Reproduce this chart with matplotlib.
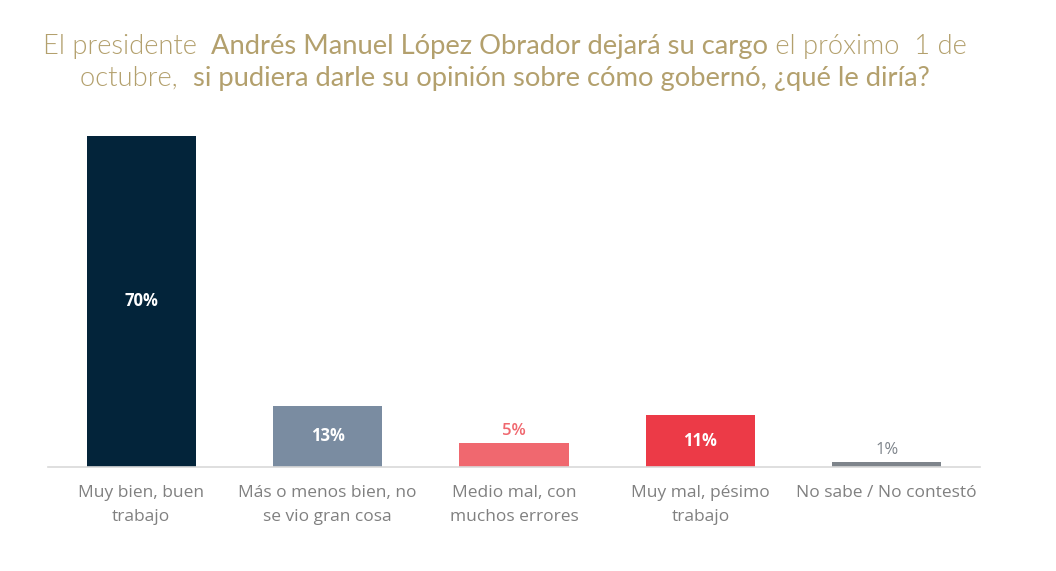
import matplotlib
matplotlib.use("Agg")
import matplotlib.pyplot as plt

categories = ["Muy bien, buen\ntrabajo", "Más o menos bien, no\nse vio gran cosa",
              "Medio mal, con\nmuchos errores", "Muy mal, pésimo\ntrabajo",
              "No sabe / No contestó"]
values = [70, 13, 5, 11, 1]
labels = ["70%", "13%", "5%", "11%", "1%"]
colors = ["#03243a", "#7a8ca1", "#f0686f", "#ec3a47", "#7e848b"]
inside = [True, True, False, True, False]
label_colors = ["white", "white", "#f0686f", "white", "#7e848b"]

title_line1 = [("El presidente  ", 300), ("Andrés Manuel López Obrador dejará su cargo", 400),
               (" el próximo  1 de", 300)]
title_line2 = [("octubre,  ", 300), ("si pudiera darle su opinión sobre cómo gobernó, ¿qué le diría?", 400)]

fig = plt.figure(figsize=(10.56, 5.71), dpi=100)
ax = fig.add_axes([48/1056, (571-467)/571, 932/1056, 331/571])
x = list(range(len(values)))
ax.bar(x, values, width=0.585, color=colors, zorder=2)
ax.set_xlim(-0.5, 4.5)
ax.set_ylim(0, 70)
for s in ["top", "right", "left"]:
    ax.spines[s].set_visible(False)
ax.spines["bottom"].set_color("#d9d9d9")
ax.spines["bottom"].set_linewidth(1.2)
ax.set_yticks([])
ax.set_xticks(x)
ax.set_xticklabels(categories, fontsize=12.5, color="#808080", family="Open Sans", linespacing=1.65)
ax.tick_params(axis="x", length=0, pad=13)

for i, (v, lab) in enumerate(zip(values, labels)):
    if inside[i]:
        ax.text(i, v / 2, lab, ha="center", va="center", color=label_colors[i],
                fontsize=12, fontweight="bold", family="Open Sans")
    else:
        ax.text(i, v + 0.9, lab, ha="center", va="bottom", color=label_colors[i],
                fontsize=12, family="Open Sans", fontweight="semibold" if i == 2 else "normal")

title_color = "#b3a06d"
fig.canvas.draw()
renderer = fig.canvas.get_renderer()

def draw_line(pieces, ycen, size=19.7):
    texts = []
    for s, w in pieces:
        t = fig.text(0, ycen, s, fontsize=size, family="Lato", fontweight=w,
                     color=title_color, va="baseline", ha="left")
        texts.append(t)
    widths = [t.get_window_extent(renderer).width for t in texts]
    total = sum(widths)
    x0 = (505 - total / 2)
    for t, w in zip(texts, widths):
        t.set_x(x0 / 1056)
        x0 += w

draw_line(title_line1, 1 - 54/571)
draw_line(title_line2, 1 - 86/571)

fig.savefig("out.png", dpi=100)
